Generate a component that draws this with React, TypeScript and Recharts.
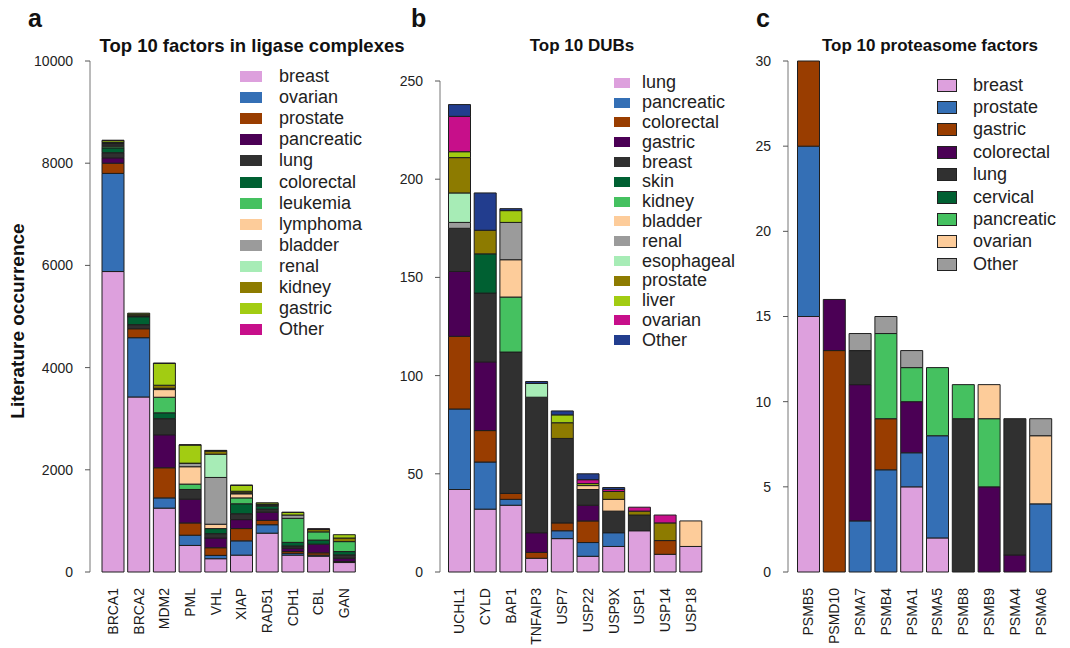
import { BarChart, Bar, XAxis, YAxis, Legend } from "recharts";

const FONT = '"Liberation Sans", Arial, Helvetica, sans-serif';

// shared colour order, same slot = same colour in all three panels
const PALETTE = [
  "#dda0dd", // pink
  "#346fb5", // blue
  "#993d00", // brown
  "#4b0055", // purple
  "#303030", // dark gray
  "#006032", // dark green
  "#45c160", // green
  "#fdcc9a", // peach
  "#9b9b9b", // gray
  "#a7ecb6", // pale green
  "#8d7b00", // olive
  "#a2cc12", // yellow green
  "#c70f8a", // magenta
  "#223d8e", // navy
];

// ---- panel a: ligase complexes ----
const LIGASE_GENES = ["BRCA1", "BRCA2", "MDM2", "PML", "VHL", "XIAP", "RAD51", "CDH1", "CBL", "GAN"];
const LIGASE_CANCERS = [
  "breast", "ovarian", "prostate", "pancreatic", "lung", "colorectal", "leukemia",
  "lymphoma", "bladder", "renal", "kidney", "gastric", "Other",
];
// one row per cancer, one column per gene
const LIGASE_COUNTS = [
  [5880, 3425, 1250, 520, 260, 330, 760, 330, 310, 185],
  [1920, 1160, 200, 200, 65, 280, 165, 35, 20, 0],
  [200, 175, 590, 240, 150, 240, 85, 35, 45, 20],
  [105, 0, 645, 465, 190, 175, 160, 65, 170, 65],
  [100, 80, 315, 190, 85, 115, 60, 45, 0, 65],
  [95, 155, 115, 0, 100, 195, 60, 70, 80, 65],
  [30, 10, 305, 105, 0, 115, 20, 470, 160, 195],
  [20, 5, 150, 340, 85, 80, 5, 0, 0, 0],
  [20, 5, 20, 65, 915, 10, 5, 65, 0, 0],
  [15, 0, 5, 0, 455, 10, 0, 0, 0, 0],
  [20, 30, 60, 5, 60, 30, 10, 0, 45, 70],
  [35, 20, 425, 355, 10, 115, 25, 50, 10, 65],
  [10, 0, 10, 5, 5, 5, 0, 5, 5, 0],
];
const LIGASE_TICKS = [0, 2000, 4000, 6000, 8000, 10000];

// ---- panel b: DUBs ----
const DUB_GENES = ["UCHL1", "CYLD", "BAP1", "TNFAIP3", "USP7", "USP22", "USP9X", "USP1", "USP14", "USP18"];
const DUB_CANCERS = [
  "lung", "pancreatic", "colorectal", "gastric", "breast", "skin", "kidney",
  "bladder", "renal", "esophageal", "prostate", "liver", "ovarian", "Other",
];
const DUB_COUNTS = [
  [42, 32, 34, 7, 17, 8, 13, 21, 9, 13],
  [41, 24, 3, 0, 4, 7, 7, 0, 0, 0],
  [37, 16, 3, 3, 4, 11, 0, 0, 7, 0],
  [33, 35, 0, 10, 0, 8, 0, 0, 0, 0],
  [22, 35, 72, 69, 43, 8, 11, 8, 0, 0],
  [0, 20, 0, 0, 0, 0, 0, 0, 0, 0],
  [0, 0, 28, 0, 0, 0, 0, 0, 0, 0],
  [0, 0, 19, 0, 0, 2, 6, 0, 0, 13],
  [3, 0, 19, 0, 0, 0, 0, 0, 0, 0],
  [15, 0, 0, 7, 0, 0, 0, 0, 0, 0],
  [18, 12, 0, 0, 8, 0, 4, 2, 9, 0],
  [3, 0, 6, 0, 4, 1, 0, 0, 0, 0],
  [18, 0, 0, 0, 0, 2, 1, 2, 4, 0],
  [6, 19, 1, 1, 2, 3, 1, 0, 0, 0],
];
const DUB_TICKS = [0, 50, 100, 150, 200, 250];

// ---- panel c: proteasome ----
const PROT_GENES = ["PSMB5", "PSMD10", "PSMA7", "PSMB4", "PSMA1", "PSMA5", "PSMB8", "PSMB9", "PSMA4", "PSMA6"];
const PROT_CANCERS = [
  "breast", "prostate", "gastric", "colorectal", "lung", "cervical", "pancreatic", "ovarian", "Other",
];
const PROT_COUNTS = [
  [15, 0, 0, 0, 5, 2, 0, 0, 0, 0],
  [10, 0, 3, 6, 2, 6, 0, 0, 0, 4],
  [5, 13, 0, 3, 0, 0, 0, 0, 0, 0],
  [0, 3, 8, 0, 3, 0, 0, 5, 1, 0],
  [0, 0, 2, 0, 0, 0, 9, 0, 8, 0],
  [0, 0, 0, 0, 0, 0, 0, 0, 0, 0],
  [0, 0, 0, 5, 2, 4, 2, 4, 0, 0],
  [0, 0, 0, 0, 0, 0, 0, 2, 0, 4],
  [0, 0, 1, 1, 1, 0, 0, 0, 0, 1],
];
const PROT_TICKS = [0, 5, 10, 15, 20, 25, 30];

const GeneTick = (props: any) => {
  const { x, y, payload } = props;
  return (
    <text
      x={x}
      y={y}
      transform={`rotate(-90 ${x} ${y})`}
      textAnchor="end"
      dominantBaseline="central"
      fontSize={14}
      fill="#1a1a1a"
      fontFamily={FONT}
    >
      {payload.value}
    </text>
  );
};

interface PanelProps {
  genes: string[];
  cancers: string[];
  counts: number[][];
  ticks: number[];
  left: number;
  width: number;
  top: number;
  axisWidth: number;
  padLeft: number;
  padRight: number;
  legendLeft: number;
  legendTop: number;
  rowHeight: number;
  swatchW: number;
  swatchH: number;
  labelGap: number;
  swatchBorder?: boolean;
}

function Panel(p: PanelProps) {
  const rows = p.genes.map((gene, i) => {
    const row: Record<string, string | number> = { gene };
    p.cancers.forEach((c, k) => (row[c] = p.counts[k][i]));
    return row;
  });

  const renderLegend = () => (
    <div style={{ fontFamily: FONT, fontSize: 18, color: "#222" }}>
      {p.cancers.map((c, k) => (
        <div key={c} style={{ display: "flex", alignItems: "center", height: p.rowHeight }}>
          <span
            style={{
              display: "inline-block",
              width: p.swatchW,
              height: p.swatchH,
              background: PALETTE[k],
              boxSizing: "border-box",
              border: p.swatchBorder ? "1px solid #222" : "none",
              marginRight: p.labelGap,
            }}
          />
          <span>{c}</span>
        </div>
      ))}
    </div>
  );

  return (
    <div style={{ position: "absolute", left: p.left, top: 0 }}>
      <BarChart
        width={p.width}
        height={648}
        data={rows}
        barSize={22}
        margin={{ top: p.top, right: 0, left: 0, bottom: 0 }}
      >
        <XAxis
          dataKey="gene"
          axisLine={false}
          tickLine={false}
          tickSize={0}
          tickMargin={16}
          height={76}
          interval={0}
          padding={{ left: p.padLeft, right: p.padRight }}
          tick={<GeneTick />}
        />
        <YAxis
          width={p.axisWidth}
          domain={[0, p.ticks[p.ticks.length - 1]]}
          ticks={p.ticks}
          interval={0}
          tickSize={5}
          tickMargin={12}
          axisLine={{ stroke: "#777" }}
          tickLine={{ stroke: "#555" }}
          tick={{ fontSize: 14, fill: "#222", fontFamily: FONT }}
        />
        <Legend
          layout="vertical"
          align="center"
          verticalAlign="middle"
          content={renderLegend}
          wrapperStyle={{ left: p.legendLeft, top: p.legendTop, width: 160, height: "auto" }}
        />
        {p.cancers.map((c, k) => (
          <Bar
            key={c}
            dataKey={c}
            stackId="s"
            fill={PALETTE[k]}
            stroke="#1e1e1e"
            strokeWidth={1}
            isAnimationActive={false}
          />
        ))}
      </BarChart>
    </div>
  );
}

export default function App() {
  return (
    <div
      style={{
        position: "absolute",
        left: 0,
        top: 0,
        width: 1070,
        height: 648,
        background: "#fff",
        fontFamily: FONT,
      }}
    >
      <Panel
        genes={LIGASE_GENES}
        cancers={LIGASE_CANCERS}
        counts={LIGASE_COUNTS}
        ticks={LIGASE_TICKS}
        left={0}
        width={365}
        top={61}
        axisWidth={90}
        padLeft={10}
        padRight={8}
        legendLeft={240}
        legendTop={66}
        rowHeight={21.1}
        swatchW={22}
        swatchH={11}
        labelGap={17}
      />
      <Panel
        genes={DUB_GENES}
        cancers={DUB_CANCERS}
        counts={DUB_COUNTS}
        ticks={DUB_TICKS}
        left={370}
        width={345}
        top={81}
        axisWidth={70}
        padLeft={6.5}
        padRight={11.5}
        legendLeft={244}
        legendTop={73}
        rowHeight={19.8}
        swatchW={16}
        swatchH={10}
        labelGap={12}
      />
      <Panel
        genes={PROT_GENES}
        cancers={PROT_CANCERS}
        counts={PROT_COUNTS}
        ticks={PROT_TICKS}
        left={720}
        width={350}
        top={61}
        axisWidth={68}
        padLeft={7.5}
        padRight={16.5}
        legendLeft={217}
        legendTop={74}
        rowHeight={22.4}
        swatchW={20}
        swatchH={13}
        labelGap={16}
        swatchBorder
      />
      <svg
        width={1070}
        height={648}
        style={{ position: "absolute", left: 0, top: 0, pointerEvents: "none" }}
        fontFamily={FONT}
        fill="#111"
      >
        <text x={28} y={18} fontSize={25} fontWeight="bold" dominantBaseline="central">a</text>
        <text x={411} y={18} fontSize={25} fontWeight="bold" dominantBaseline="central">b</text>
        <text x={756} y={18} fontSize={25} fontWeight="bold" dominantBaseline="central">c</text>
        <text x={252} y={45} fontSize={18.5} fontWeight="bold" textAnchor="middle" dominantBaseline="central">
          Top 10 factors in ligase complexes
        </text>
        <text x={582} y={45} fontSize={17} fontWeight="bold" textAnchor="middle" dominantBaseline="central">
          Top 10 DUBs
        </text>
        <text x={930} y={45} fontSize={17} fontWeight="bold" textAnchor="middle" dominantBaseline="central">
          Top 10 proteasome factors
        </text>
        <text
          x={17}
          y={321}
          fontSize={19}
          fontWeight="bold"
          textAnchor="middle"
          dominantBaseline="central"
          transform="rotate(-90 17 321)"
        >
          Literature occurrence
        </text>
      </svg>
    </div>
  );
}
